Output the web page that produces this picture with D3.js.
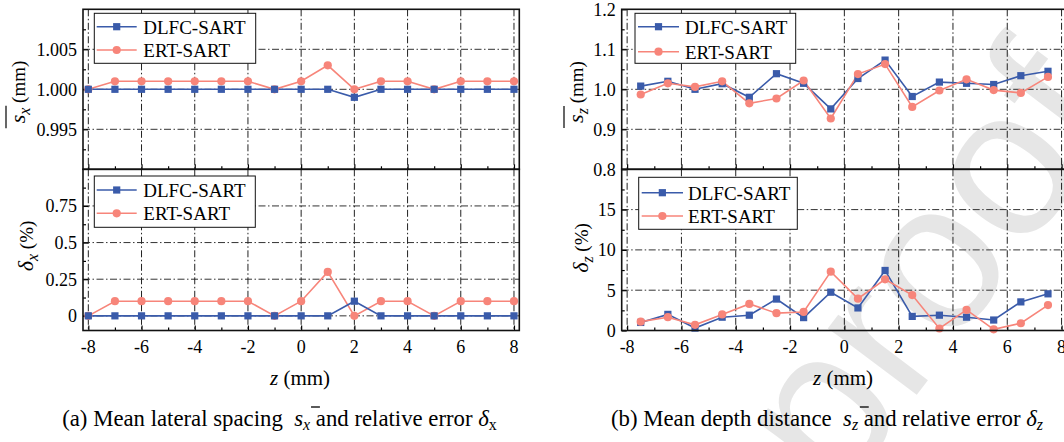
<!DOCTYPE html>
<html><head><meta charset="utf-8">
<script src="https://cdn.jsdelivr.net/npm/d3@7"></script>
<style>
body{margin:0;background:#fff;}
svg{display:block;}
text{font-family:"Liberation Serif","Times New Roman",serif;fill:#000;}
</style>
</head><body>
<svg id="c" width="1064" height="442"></svg>
<script>
// ---------- DATA ----------
const seriesNames = ["DLFC-SART", "ERT-SART"];
// (a) lateral spacing
const zA = [-8,-7,-6,-5,-4,-3,-2,-1,0,1,2,3,4,5,6,7,8];
const sxDLFC = [1.000,1.000,1.000,1.000,1.000,1.000,1.000,1.000,1.000,1.000,0.999,1.000,1.000,1.000,1.000,1.000,1.000];
const sxERT  = [1.000,1.001,1.001,1.001,1.001,1.001,1.001,1.000,1.001,1.003,1.000,1.001,1.001,1.000,1.001,1.001,1.001];
const dxDLFC = [0,0,0,0,0,0,0,0,0,0,0.1,0,0,0,0,0,0];
const dxERT  = [0,0.1,0.1,0.1,0.1,0.1,0.1,0,0.1,0.3,0,0.1,0.1,0,0.1,0.1,0.1];
// (b) depth distance
const zB = [-7.5,-6.5,-5.5,-4.5,-3.5,-2.5,-1.5,-0.5,0.5,1.5,2.5,3.5,4.5,5.5,6.5,7.5];
const szDLFC = [1.008,1.020,1.000,1.014,0.980,1.039,1.015,0.951,1.027,1.073,0.982,1.018,1.015,1.012,1.034,1.045];
const szERT  = [0.987,1.015,1.006,1.020,0.965,0.977,1.022,0.927,1.038,1.063,0.956,0.997,1.025,0.998,0.991,1.031];
const dzDLFC = [1.0,2.0,0.3,1.65,1.9,3.9,1.6,4.75,2.8,7.45,1.75,1.9,1.65,1.3,3.55,4.55];
const dzERT  = [1.1,1.65,0.7,2.0,3.3,2.15,2.3,7.3,3.95,6.35,4.4,0.25,2.55,0.15,0.9,3.15];
// ticks
const xTicks = [-8,-6,-4,-2,0,2,4,6,8];
const xTickLabels = ["-8","-6","-4","-2","0","2","4","6","8"];
const xMinor = [-7,-5,-3,-1,1,3,5,7];
const ySxTicks = [0.995,1.000,1.005];
const ySxLabels = ["0.995","1.000","1.005"];
const ySxMinor = [0.9925,0.9975,1.0025,1.0075];
const yDxTicks = [0,0.25,0.5,0.75];
const yDxLabels = ["0","0.25","0.5","0.75"];
const yDxMinor = [0.125,0.375,0.625,0.875];
const ySzTicks = [0.8,0.9,1.0,1.1,1.2];
const ySzLabels = ["0.8","0.9","1.0","1.1","1.2"];
const ySzMinor = [0.85,0.95,1.05,1.15];
const yDzTicks = [0,5,10,15];
const yDzLabels = ["0","5","10","15"];
const yDzMinor = [2.5,7.5,12.5,17.5];

// ---------- STYLE ----------
const C_BLUE = "#3A5BAA", C_RED = "#F7857A";
const FS = 18;
const svg = d3.select("#c");

// ---------- WATERMARK ----------
(function(){
  const wm = svg.append("g");
  const str = "Journal Pre-proof";
  const fsz = 210;
  const t = wm.append("text").text(str)
    .style("font-family","'Liberation Sans', Arial, sans-serif")
    .attr("font-size", fsz).style("fill","#e6e6e6");
  const idx = str.indexOf("o", 10);
  const ext = t.node().getExtentOfChar(idx);
  const cx = ext.x + ext.width/2, cy = -0.27*fsz;
  const angDeg = -53, a = angDeg*Math.PI/180;
  const rx = cx*Math.cos(a) - cy*Math.sin(a), ry = cx*Math.sin(a) + cy*Math.cos(a);
  wm.attr("transform", `translate(${940-rx},${270-ry}) rotate(${angDeg})`);
})();

// ---------- PANEL ----------
function panel(o){
  const g = svg.append("g");
  const x = d3.scaleLinear().domain([-8.2, 8.2]).range([o.x0, o.x1]);
  const y = d3.scaleLinear().domain(o.yDomain).range([o.y1, o.y0]);
  const gridH = o.yGrid, gridV = xTicks;
  g.selectAll(".gh").data(gridH).join("line")
    .attr("x1", o.x0).attr("x2", o.x1).attr("y1", d=>y(d)).attr("y2", d=>y(d))
    .attr("stroke","#333").attr("stroke-width",1).attr("stroke-dasharray","7,2.5,1.5,2.5");
  g.selectAll(".gv").data(gridV).join("line")
    .attr("y1", o.y0).attr("y2", o.y1).attr("x1", d=>x(d)).attr("x2", d=>x(d))
    .attr("stroke","#222").attr("stroke-width",1).attr("stroke-dasharray","7,2.5,1.5,2.5");
  const yAxis = d3.axisRight(y).tickValues(o.yTicks).tickSize(5).tickFormat("");
  const yAxisMinor = d3.axisRight(y).tickValues(o.yMinor).tickSize(3).tickFormat("");
  g.append("g").attr("transform",`translate(${o.x0},0)`).call(yAxis).call(s=>s.select(".domain").remove())
    .selectAll("line").attr("stroke","#000").attr("stroke-width",1.2);
  g.append("g").attr("transform",`translate(${o.x0},0)`).call(yAxisMinor).call(s=>s.select(".domain").remove())
    .selectAll("line").attr("stroke","#000").attr("stroke-width",1.2);
  g.selectAll(".yl").data(o.yTicks).join("text")
    .attr("x", o.x0 - 6).attr("y", d=>y(d)).attr("dy","0.35em")
    .attr("text-anchor","end").attr("font-size",FS).text((d,i)=>o.yLabels[i]);
  const xAxis = d3.axisTop(x).tickValues(xTicks).tickSize(5).tickFormat("");
  const xAxisMinor = d3.axisTop(x).tickValues(xMinor).tickSize(3).tickFormat("");
  g.append("g").attr("transform",`translate(0,${o.y1})`).call(xAxis).call(s=>s.select(".domain").remove())
    .selectAll("line").attr("stroke","#000").attr("stroke-width",1.2);
  g.append("g").attr("transform",`translate(0,${o.y1})`).call(xAxisMinor).call(s=>s.select(".domain").remove())
    .selectAll("line").attr("stroke","#000").attr("stroke-width",1.2);
  if (o.xLabels) {
    g.selectAll(".xl").data(xTicks).join("text")
      .attr("x", d=>x(d)).attr("y", o.y1 + 22)
      .attr("text-anchor","middle").attr("font-size",FS).text((d,i)=>xTickLabels[i]);
  }
  const line = d3.line().x(d=>x(d[0])).y(d=>y(d[1]));
  const s1 = o.xs.map((v,i)=>[v,o.a[i]]);
  const s2 = o.xs.map((v,i)=>[v,o.b[i]]);
  const drawOrder = o.redOnTop ? [["a",s1,C_BLUE],["b",s2,C_RED]] : [["b",s2,C_RED],["a",s1,C_BLUE]];
  drawOrder.forEach(([k,data,col])=>{
    g.append("path").datum(data).attr("d",line).attr("fill","none").attr("stroke",col).attr("stroke-width",1.6);
  });
  drawOrder.forEach(([k,data,col])=>{
    if (k==="a") {
      g.selectAll(null).data(data).join("rect")
        .attr("x",d=>x(d[0])-3.6).attr("y",d=>y(d[1])-3.6).attr("width",7.2).attr("height",7.2)
        .attr("fill",col);
    } else {
      g.selectAll(null).data(data).join("circle")
        .attr("cx",d=>x(d[0])).attr("cy",d=>y(d[1])).attr("r",4.1).attr("fill",col);
    }
  });
  g.append("rect").attr("x",o.x0).attr("y",o.y0).attr("width",o.x1-o.x0).attr("height",o.y1-o.y0)
    .attr("fill","none").attr("stroke","#111").attr("stroke-width",1.6);
  const L = o.leg;
  const lg = g.append("g");
  lg.append("rect").attr("x",L.x0).attr("y",L.y0).attr("width",L.x1-L.x0).attr("height",L.y1-L.y0)
    .attr("fill","#fff").attr("stroke","#111").attr("stroke-width",1);
  [[C_BLUE,"sq",L.r1],[C_RED,"ci",L.r2]].forEach(([col,m,ry],i)=>{
    lg.append("line").attr("x1",L.l0).attr("x2",L.l1).attr("y1",ry).attr("y2",ry).attr("stroke",col).attr("stroke-width",1.6);
    const mx = (L.l0+L.l1)/2;
    if (m==="sq") lg.append("rect").attr("x",mx-3.6).attr("y",ry-3.6).attr("width",7.2).attr("height",7.2).attr("fill",col);
    else lg.append("circle").attr("cx",mx).attr("cy",ry).attr("r",4.1).attr("fill",col);
    lg.append("text").attr("x",L.tx).attr("y",ry).attr("dy","0.36em").attr("font-size",19).text(seriesNames[i]);
  });
}

// ---------- LEFT CHART ----------
const LX0 = 83, LX1 = 519.3, TOP = 9.3, MID = 169.3, BOT = 330.5;
panel({x0:LX0,x1:LX1,y0:TOP,y1:MID,yDomain:[0.990,1.010],yTicks:ySxTicks,yMinor:ySxMinor,
  yGrid:ySxTicks,yLabels:ySxLabels,xs:zA,a:sxDLFC,b:sxERT,redOnTop:false,
  leg:{x0:94.3,x1:255.7,y0:13.3,y1:63.3,l0:96.7,l1:136.7,tx:143.3,r1:26.7,r2:50}});
panel({x0:LX0,x1:LX1,y0:MID,y1:BOT,yDomain:[-0.1,1.0],yTicks:yDxTicks,yMinor:yDxMinor,
  yGrid:yDxTicks,yLabels:yDxLabels,xs:zA,a:dxDLFC,b:dxERT,redOnTop:false,xLabels:true,
  leg:{x0:94.3,x1:255.3,y0:176,y1:227.3,l0:96.7,l1:136.7,tx:143.3,r1:190,r2:213.3}});

// ---------- RIGHT CHART ----------
const RX0 = 621.7, RX1 = 1067;
panel({x0:RX0,x1:RX1,y0:TOP,y1:MID,yDomain:[0.8,1.2],yTicks:ySzTicks,yMinor:ySzMinor,
  yGrid:[0.9,1.0,1.1],yLabels:ySzLabels,xs:zB,a:szDLFC,b:szERT,redOnTop:true,
  leg:{x0:635,x1:795.7,y0:13.3,y1:63.3,l0:638,l1:679,tx:685,r1:26.7,r2:51.7}});
panel({x0:RX0,x1:RX1,y0:MID,y1:BOT,yDomain:[0,20],yTicks:yDzTicks,yMinor:yDzMinor,
  yGrid:[5,10,15],yLabels:yDzLabels,xs:zB,a:dzDLFC,b:dzERT,redOnTop:true,xLabels:true,
  leg:{x0:638.7,x1:797.3,y0:177.3,y1:229.3,l0:641.7,l1:683,tx:688,r1:192.7,r2:216}});

// ---------- AXIS TITLES ----------
function yTitle(cx, cy, sym, sub, unit, bar){
  const g = svg.append("g").attr("transform",`translate(${cx},${cy}) rotate(-90)`);
  const t = g.append("text").attr("text-anchor","middle").attr("font-size",FS+1);
  t.append("tspan").attr("font-style","italic").attr("font-size",FS+4).text(sym);
  t.append("tspan").attr("font-style","italic").attr("font-size",FS-2).attr("dy",5).text(sub);
  t.append("tspan").attr("dy",-5).text(" " + unit);
  if (bar) {
    const e0 = t.node().getExtentOfChar(0), e1 = t.node().getExtentOfChar(1);
    g.append("line").attr("x1",e0.x-5).attr("x2",e1.x+e1.width+2).attr("y1",-19).attr("y2",-19)
      .attr("stroke","#000").attr("stroke-width",1.2);
  }
}
yTitle(25, 92, "s", "x", "(mm)", true);
yTitle(33, 246, "\u03B4", "x", "(%)", false);
yTitle(583, 92, "s", "z", "(mm)", true);
yTitle(588, 248, "\u03B4", "z", "(%)", false);

function xTitle(cx){
  const t = svg.append("text").attr("x",cx).attr("y",385).attr("text-anchor","middle").attr("font-size",21);
  t.append("tspan").attr("font-style","italic").text("z");
  t.append("tspan").text(" (mm)");
}
xTitle(300); xTitle(843);

// ---------- CAPTIONS ----------
function caption(cx, fs, pre, sym, sub, mid, d, dsub, dsubItalic){
  const t = svg.append("text").attr("x",cx).attr("y",426).attr("text-anchor","middle").attr("font-size",fs)
    .attr("xml:space","preserve");
  const subFs = fs*0.7;
  t.append("tspan").text(pre);
  t.append("tspan").attr("font-style","italic").text(sym);
  t.append("tspan").attr("font-style","italic").attr("font-size",subFs).attr("dy",4).text(sub);
  t.append("tspan").attr("dy",-4).text(mid);
  t.append("tspan").attr("font-style","italic").text(d);
  t.append("tspan").attr("font-style", dsubItalic ? "italic" : "normal").attr("font-size",subFs).attr("dy",4).text(dsub);
  return t;
}
// size caption (a) to its span in the reference (x 62..497), reuse the size for (b)
const capA0 = caption(-1000, 22, "(a) Mean lateral spacing  ", "s", "x", " and relative error ", "\u03B4", "x", false);
const capFs = 22 * 435 / capA0.node().getComputedTextLength();
capA0.remove();
function captionWithBar(cx, ...args){
  const t = caption(cx, capFs, ...args);
  const e = t.node().getExtentOfChar(args[0].length);
  svg.append("line").attr("x1",e.x+e.width*1.9).attr("x2",e.x+e.width*2.9).attr("y1",407).attr("y2",407)
    .attr("stroke","#000").attr("stroke-width",1.3);
}
captionWithBar(279.5, "(a) Mean lateral spacing  ", "s", "x", " and relative error ", "\u03B4", "x", false);
captionWithBar(827, "(b) Mean depth distance  ", "s", "z", " and relative error ", "\u03B4", "z", true);
</script>
</body></html>
